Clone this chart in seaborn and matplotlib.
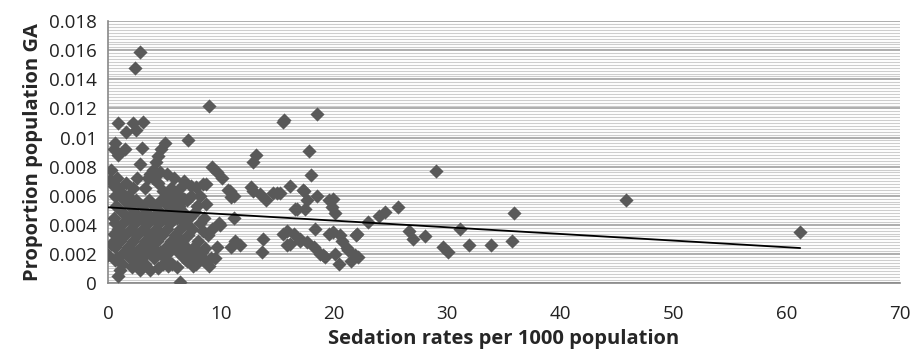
import numpy as np
import pandas as pd
import matplotlib
matplotlib.use("Agg")
import matplotlib.pyplot as plt
from matplotlib.ticker import MultipleLocator, FuncFormatter
import seaborn as sns

# ---- data ----
sed_outer = [2.83, 2.4, 8.9, 15.6, 18.5, 17.8, 17.95, 29.0, 45.8, 61.2, 35.9, 35.7, 33.9, 31.9,
             31.1, 29.6, 30.1, 28.0, 26.6, 27.0, 25.6, 24.5, 24.0, 23.0, 21.9, 22.1, 21.5, 20.4,
             21.2, 20.1, 20.5, 19.9, 19.5, 20.1, 19.8, 19.5, 19.9, 18.3, 18.5, 17.6, 17.4, 17.2,
             16.5, 16.1, 15.2, 19.0, 18.2, 17.6, 17.0, 16.4, 15.8, 15.8, 17.3, 22.0, 20.7, 21.1,
             21.8, 18.7, 19.2]
ga_outer = [0.0159, 0.0148, 0.0122, 0.0112, 0.0116, 0.0091, 0.0074, 0.0077, 0.0057, 0.0035, 0.0048,
            0.0029, 0.0026, 0.0026, 0.0037, 0.0025, 0.0021, 0.0032, 0.0036, 0.0030, 0.0052, 0.0049,
            0.0046, 0.0042, 0.0033, 0.0018, 0.0015, 0.0013, 0.0023, 0.0020, 0.0033, 0.0035, 0.0034,
            0.0048, 0.0052, 0.0057, 0.0058, 0.0037, 0.0060, 0.0057, 0.0051, 0.0064, 0.0051, 0.0067,
            0.0062, 0.0019, 0.0025, 0.0028, 0.0030, 0.0034, 0.0026, 0.0036, 0.0063, 0.0034, 0.0029,
            0.0024, 0.0019, 0.0020, 0.0018]

sed_mid = [15.5, 13.1, 12.8, 9.2, 9.6, 10.1, 8.4, 10.8, 12.8, 14.9, 8.7, 10.9, 14.0, 13.4, 14.6,
           16.7, 11.1, 9.8, 9.2, 8.4, 11.2, 10.9, 11.7, 13.7, 13.6, 15.5, 16.1, 17.0, 8.6, 8.6,
           8.1, 9.9, 12.6, 11.1, 10.6]
ga_mid = [0.0111, 0.0088, 0.0083, 0.0080, 0.0076, 0.0072, 0.0068, 0.0063, 0.0063, 0.0062, 0.0054,
          0.0059, 0.0057, 0.0061, 0.0062, 0.0051, 0.0045, 0.0041, 0.0037, 0.0036, 0.0029, 0.0025,
          0.0026, 0.0030, 0.0021, 0.0034, 0.0027, 0.0029, 0.0024, 0.0016, 0.0018, 0.0040, 0.0066,
          0.0060, 0.0064]

sed_upper_left = [0.9, 2.2, 3.1, 1.6, 2.5, 7.1, 0.6, 0.5, 0.9, 1.5, 3.0, 5.0, 4.7, 2.8, 4.4, 4.2,
                  4.0, 0.3, 0.2, 0.5, 0.6, 1.1, 1.6, 1.8, 3.7, 4.6, 5.2, 5.8, 6.7, 7.3, 7.8, 8.7,
                  4.4, 4.9, 5.5, 6.1, 6.7, 7.3, 8.1]
ga_upper_left = [0.0110, 0.0110, 0.0111, 0.0104, 0.0105, 0.0098, 0.0096, 0.0092, 0.0088, 0.0092,
                 0.0093, 0.0096, 0.0092, 0.0082, 0.0087, 0.0083, 0.0078, 0.0078, 0.0071, 0.0067,
                 0.0060, 0.0063, 0.0069, 0.0060, 0.0075, 0.0076, 0.0075, 0.0072, 0.0070, 0.0067,
                 0.0066, 0.0068, 0.0069, 0.0063, 0.0060, 0.0062, 0.0058, 0.0060, 0.0060]

sed_lower_left = [0.0, 0.9, 6.4, 0.6, 2.1, 2.8, 3.7, 4.4, 5.3, 6.1, 7.0, 7.5, 8.4, 8.9, 9.5, 0.5,
                  0.3, 0.6, 1.1,
                  1.2, 2.4, 3.3, 4.9, 5.7, 7.8,
                  0.8, 1.9, 3.0, 4.1, 5.0, 6.7, 7.9, 9.1,
                  1.4, 2.5, 3.6, 4.6, 5.4, 6.2, 7.3, 8.3,
                  0.6, 1.8, 2.9, 3.9, 5.1, 6.0, 6.9, 7.6, 9.6,
                  1.1, 2.2, 3.3, 4.3, 5.6, 6.5, 8.0,
                  1.5, 2.6, 3.7, 4.8, 5.9, 7.1, 8.8,
                  0.9, 2.0, 3.1, 4.2, 5.2, 6.4, 7.4,
                  1.3, 2.4, 3.5, 4.5, 5.5, 6.8, 8.1,
                  0.5, 1.8, 2.9, 4.0, 5.0, 6.1, 7.2, 8.5,
                  1.2, 2.3, 3.4, 4.6, 5.7, 6.6, 7.7,
                  0.7, 1.9, 3.0, 4.1, 5.3, 6.3, 7.9,
                  1.4, 2.5, 3.6, 4.7, 5.9, 7.0,
                  0.9, 2.2, 3.3, 5.6, 6.4,
                  0.8, 2.6, 3.5, 4.0]
ga_lower_left = [0.0019, 0.0005, 0.0001, 0.0041, 0.0011, 0.0009, 0.0009, 0.0010, 0.0012, 0.0011,
                 0.0015, 0.0012, 0.0016, 0.0012, 0.0017, 0.0034, 0.0027, 0.0016, 0.0009,
                 0.0013, 0.0013, 0.0013, 0.0013, 0.0013, 0.0013,
                 0.0017, 0.0017, 0.0017, 0.0017, 0.0017, 0.0017, 0.0017, 0.0017,
                 0.0021, 0.0021, 0.0021, 0.0021, 0.0021, 0.0021, 0.0021, 0.0021,
                 0.0025, 0.0025, 0.0025, 0.0025, 0.0025, 0.0025, 0.0025, 0.0025, 0.0025,
                 0.0029, 0.0029, 0.0029, 0.0029, 0.0029, 0.0029, 0.0029,
                 0.0033, 0.0033, 0.0033, 0.0033, 0.0033, 0.0033, 0.0033,
                 0.0037, 0.0037, 0.0037, 0.0037, 0.0037, 0.0037, 0.0037,
                 0.0041, 0.0041, 0.0041, 0.0041, 0.0041, 0.0041, 0.0041,
                 0.0045, 0.0045, 0.0045, 0.0045, 0.0045, 0.0045, 0.0045, 0.0045,
                 0.0049, 0.0049, 0.0049, 0.0049, 0.0049, 0.0049, 0.0049,
                 0.0053, 0.0053, 0.0053, 0.0053, 0.0053, 0.0053, 0.0053,
                 0.0057, 0.0057, 0.0057, 0.0057, 0.0057, 0.0057,
                 0.0065, 0.0065, 0.0065, 0.0065, 0.0065,
                 0.0072, 0.0072, 0.0072, 0.0072]

# linear trend line (as shown in reference)
trend_intercept = 0.0052
trend_slope = -0.0000457

x_ticks = [0, 10, 20, 30, 40, 50, 60, 70]
y_ticks = [0, 0.002, 0.004, 0.006, 0.008, 0.01, 0.012, 0.014, 0.016, 0.018]
x_label = "Sedation rates per 1000 population"
y_label = "Proportion population GA"

df = pd.DataFrame({
    "sed": sed_outer + sed_mid + sed_upper_left + sed_lower_left,
    "ga": ga_outer + ga_mid + ga_upper_left + ga_lower_left,
})

sns.set_style("white")
plt.rcParams["font.family"] = ["Open Sans", "DejaVu Sans"]

fig = plt.figure(figsize=(9.10, 3.54), dpi=100)
ax = fig.add_axes([0.1187, 0.2006, 0.870, 0.7395])

ax.set_xlim(0, 70)
ax.set_ylim(0, 0.018)
ax.yaxis.set_major_locator(plt.FixedLocator(y_ticks))
ax.yaxis.set_minor_locator(MultipleLocator(0.0002))
ax.xaxis.set_major_locator(plt.FixedLocator(x_ticks))
ax.grid(which="minor", axis="y", color="#cdcdcd", linewidth=0.8, zorder=0)
ax.grid(which="major", axis="y", color="#a0a0a0", linewidth=1.2, zorder=0)
ax.grid(which="major", axis="x", visible=False)
ax.set_axisbelow(True)

sns.scatterplot(data=df, x="sed", y="ga", marker="D", s=52, color="#595959",
                linewidth=0, ax=ax, zorder=3)

xt = np.array([0.0, df["sed"].max()])
ax.plot(xt, trend_intercept + trend_slope * xt, color="black", linewidth=1.3, zorder=4)

ax.yaxis.set_major_formatter(FuncFormatter(lambda v, p: f"{v:g}"))
ax.tick_params(axis="both", which="major", labelsize=13.5, colors="#222222")
ax.tick_params(axis="x", which="major", direction="inout", length=7, width=1, color="#888888", pad=12)
ax.tick_params(axis="y", which="major", direction="out", length=4, width=1, color="#888888", pad=4)
ax.tick_params(which="minor", length=0)

for s in ["top", "right"]:
    ax.spines[s].set_visible(False)
for s in ["left", "bottom"]:
    ax.spines[s].set_color("#888888")
    ax.spines[s].set_linewidth(1.2)

ax.set_xlabel(x_label, fontsize=14.5, fontweight="bold", labelpad=5)
ax.set_ylabel(y_label, fontsize=14.5, fontweight="bold", labelpad=4)

fig.savefig("out.png", dpi=100, facecolor="white")
